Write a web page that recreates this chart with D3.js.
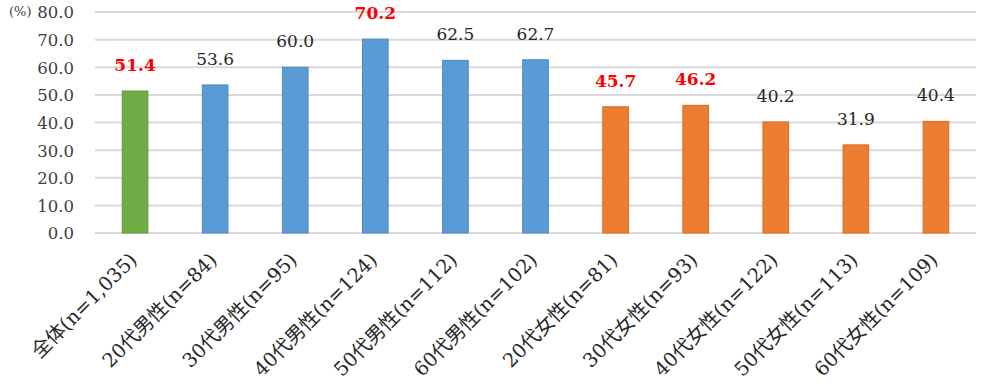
<!DOCTYPE html>
<html>
<head>
<meta charset="utf-8">
<script src="https://cdn.jsdelivr.net/npm/d3@7"></script>
<style>
  body { margin: 0; background: #fff; }
  svg text { font-family: 'DejaVu Serif', 'Noto Sans CJK JP', serif; }
</style>
</head>
<body>
<svg id="chart" width="1000" height="385"></svg>
<script>
const categories = ['全体(n=1,035)', '20代男性(n=84)', '30代男性(n=95)', '40代男性(n=124)', '50代男性(n=112)', '60代男性(n=102)',
  '20代女性(n=81)', '30代女性(n=93)', '40代女性(n=122)', '50代女性(n=113)', '60代女性(n=109)']
const values = [51.4, 53.6, 60.0, 70.2, 62.5, 62.7, 45.7, 46.2, 40.2, 31.9, 40.4]
const groups = ['all', 'male', 'male', 'male', 'male', 'male', 'female', 'female', 'female', 'female', 'female']
const highlighted = [true, false, false, true, false, false, true, true, false, false, false]
const yTicks = [0, 10, 20, 30, 40, 50, 60, 70, 80]

const colors = { all: '#70AD47', male: '#5B9BD5', female: '#ED7D31' }
const strokes = { all: '#5f9a3a', male: '#4a8ac4', female: '#d96c22' }

const svg = d3.select('#chart')
const plotLeft = 95
const plotRight = 976
const plotTop = 12
const plotBottom = 233

const x = d3.scaleBand().domain(categories).range([plotLeft, plotRight]).paddingInner(0.68).paddingOuter(0.34)
const y = d3.scaleLinear().domain([0, 80]).range([plotBottom, plotTop])

// gridlines
svg.append('g')
  .selectAll('line')
  .data(yTicks)
  .join('line')
  .attr('x1', plotLeft)
  .attr('x2', plotRight)
  .attr('y1', d => y(d))
  .attr('y2', d => y(d))
  .attr('stroke', '#d9d9d9')
  .attr('stroke-width', 2)

// y axis labels
const yAxis = d3.axisLeft(y).tickValues(yTicks).tickSize(0).tickPadding(0).tickFormat(d3.format('.1f'))
svg.append('g')
  .attr('transform', `translate(74,0)`)
  .call(yAxis)
  .call(g => g.select('.domain').remove())
  .call(g => g.selectAll('text')
    .attr('fill', '#404040')
    .attr('dy', '0.36em')
    .style('font-size', '16.5px'))

svg.append('text')
  .attr('x', 9)
  .attr('y', y(80) + 4)
  .attr('fill', '#404040')
  .style('font-size', '13px')
  .text('(%)')

const data = categories.map((c, i) => ({ cat: c, value: values[i], group: groups[i], hi: highlighted[i] }))

// bars
svg.append('g')
  .selectAll('rect')
  .data(data)
  .join('rect')
  .attr('x', d => x(d.cat))
  .attr('y', d => y(d.value))
  .attr('width', x.bandwidth())
  .attr('height', d => y(0) - y(d.value))
  .attr('fill', d => colors[d.group])
  .attr('stroke', d => strokes[d.group])
  .attr('stroke-width', 1)

// value labels
svg.append('g')
  .selectAll('text')
  .data(data)
  .join('text')
  .attr('x', d => x(d.cat) + x.bandwidth() / 2)
  .attr('y', d => y(d.value) - 20)
  .attr('text-anchor', 'middle')
  .attr('fill', d => (d.hi ? '#FF0000' : '#262626'))
  .attr('font-weight', d => (d.hi ? 'bold' : 'normal'))
  .style('font-size', '17px')
  .text(d => d.value.toFixed(1))

// x axis labels
const xAxis = d3.axisBottom(x).tickSize(0).tickPadding(0)
svg.append('g')
  .attr('transform', `translate(0,${plotBottom})`)
  .call(xAxis)
  .call(g => g.select('.domain').remove())
  .call(g => g.selectAll('text')
    .attr('fill', '#262626')
    .style('font-size', '19.5px')
    .attr('text-anchor', 'end')
    .attr('dy', '0')
    .attr('transform', 'translate(3,28) rotate(-45)'))
</script>
</body>
</html>
